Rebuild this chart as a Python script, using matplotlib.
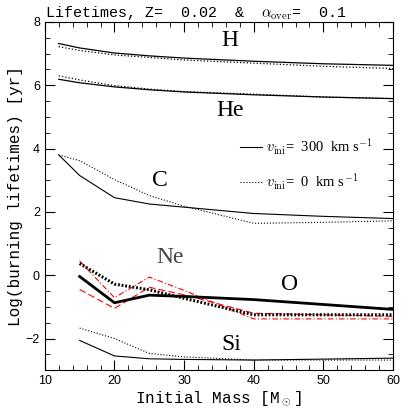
import matplotlib
matplotlib.use("Agg")
import matplotlib.pyplot as plt
from matplotlib.lines import Line2D

plt.rcParams['mathtext.fontset'] = 'cm'

# masses of the models
mass_hhe = [12, 15, 20, 25, 30, 40, 50, 60]
mass = [15, 20, 25, 30, 40, 60]
mass_c = [12, 15, 20, 25, 30, 40, 50, 60]

# H burning
h_rot = [7.32, 7.18, 7.02, 6.93, 6.86, 6.76, 6.68, 6.63]
h_norot = [7.22, 7.10, 6.96, 6.88, 6.80, 6.70, 6.60, 6.53]
# He burning
he_rot = [6.19, 6.08, 5.95, 5.86, 5.79, 5.70, 5.63, 5.58]
he_norot = [6.30, 6.17, 5.99, 5.88, 5.80, 5.72, 5.63, 5.58]
# C burning
c_rot = [3.80, 3.15, 2.45, 2.25, 2.15, 1.95, 1.86, 1.79]
c_norot = [3.80, 3.62, 3.02, 2.52, 2.18, 1.64, 1.67, 1.72]
# Ne burning (red)
ne_rot = [-0.45, -1.05, -0.38, -0.62, -1.20, -1.30]
ne_norot = [0.45, -0.71, -0.06, -0.48, -1.38, -1.38]
# O burning
o_rot = [-0.04, -0.87, -0.63, -0.67, -0.77, -1.08]
o_norot = [0.37, -0.28, -0.46, -0.73, -1.25, -1.25]
# Si burning
si_rot = [-2.06, -2.55, -2.64, -2.66, -2.68, -2.62]
si_norot = [-1.67, -2.00, -2.47, -2.58, -2.68, -2.68]

fig = plt.figure(figsize=(4.15, 4.15), dpi=100)
ax = fig.add_axes([0.108, 0.108, 0.839, 0.839])

ax.plot(mass_hhe, h_rot, color='black', lw=0.9)
ax.plot(mass_hhe, h_norot, color='black', lw=0.9, ls=':')
ax.plot(mass_hhe, he_rot, color='black', lw=0.9)
ax.plot(mass_hhe, he_norot, color='black', lw=0.9, ls=':')
ax.plot(mass_c, c_rot, color='black', lw=0.8)
ax.plot(mass_c, c_norot, color='black', lw=0.8, ls=':')
ax.plot(mass, ne_rot, color='red', lw=0.8, ls=(0, (6, 3)))
ax.plot(mass, ne_norot, color='red', lw=0.8, ls=(0, (5, 2, 1, 2)))
ax.plot(mass, o_rot, color='black', lw=2.0)
ax.plot(mass, o_norot, color='black', lw=2.2, ls=(0, (0.6, 0.6)))
ax.plot(mass, si_rot, color='black', lw=0.8)
ax.plot(mass, si_norot, color='black', lw=0.8, ls=':')

ax.set_xlim(10, 60)
ax.set_ylim(-3, 8)
ax.set_xticks([10, 20, 30, 40, 50, 60])
ax.set_xticks(range(10, 61, 2), minor=True)
ax.set_yticks([-2, 0, 2, 4, 6, 8])
ax.set_yticks([v * 0.5 for v in range(-6, 17)], minor=True)
ax.tick_params(which='both', direction='in', top=True, right=True)
ax.tick_params(which='major', length=7, width=0.8, labelsize=9)
ax.tick_params(which='minor', length=3.5, width=0.6)
ax.set_yticklabels(['\u22122', '0', '2', '4', '6', '8'])
for lab in ax.get_xticklabels() + ax.get_yticklabels():
    lab.set_family('Liberation Sans')

mono = 'Liberation Mono'
ax.set_title(r'Lifetimes, Z=  0.02  &  $\alpha_{\rm over}$=  0.1', loc='left',
             family=mono, fontsize=10.8, pad=3)
ax.set_xlabel(r'Initial Mass [M$_\odot$]', family=mono, fontsize=11.5, labelpad=2)
ax.set_ylabel('Log(burning lifetimes) [yr]', family=mono, fontsize=11.5, labelpad=2)

serif = 'Liberation Serif'
ax.text(36.6, 7.4, 'H', family=serif, fontsize=17, ha='center', va='center')
ax.text(36.6, 5.2, 'He', family=serif, fontsize=17, ha='center', va='center')
ax.text(26.5, 3.0, 'C', family=serif, fontsize=17, ha='center', va='center')
ax.text(28.0, 0.55, 'Ne', family=serif, fontsize=17, ha='center', va='center',
        color='#444444')
ax.text(45.2, -0.28, 'O', family=serif, fontsize=17, ha='center', va='center')
ax.text(36.8, -2.2, 'Si', family=serif, fontsize=17, ha='center', va='center')

handles = [Line2D([], [], color='black', lw=0.8),
           Line2D([], [], color='black', lw=0.8, ls=':')]
labels = [r'$v_{\rm ini}$=  300  km s$^{-1}$', r'$v_{\rm ini}$=  0  km s$^{-1}$']
leg = ax.legend(handles, labels, loc='upper left', bbox_to_anchor=(0.56, 0.67),
                frameon=False, handlelength=1.5, handletextpad=0.3,
                borderpad=0, borderaxespad=0,
                labelspacing=1.0, prop={'family': 'Liberation Serif', 'size': 10.5})

fig.savefig('out.png', dpi=100)
